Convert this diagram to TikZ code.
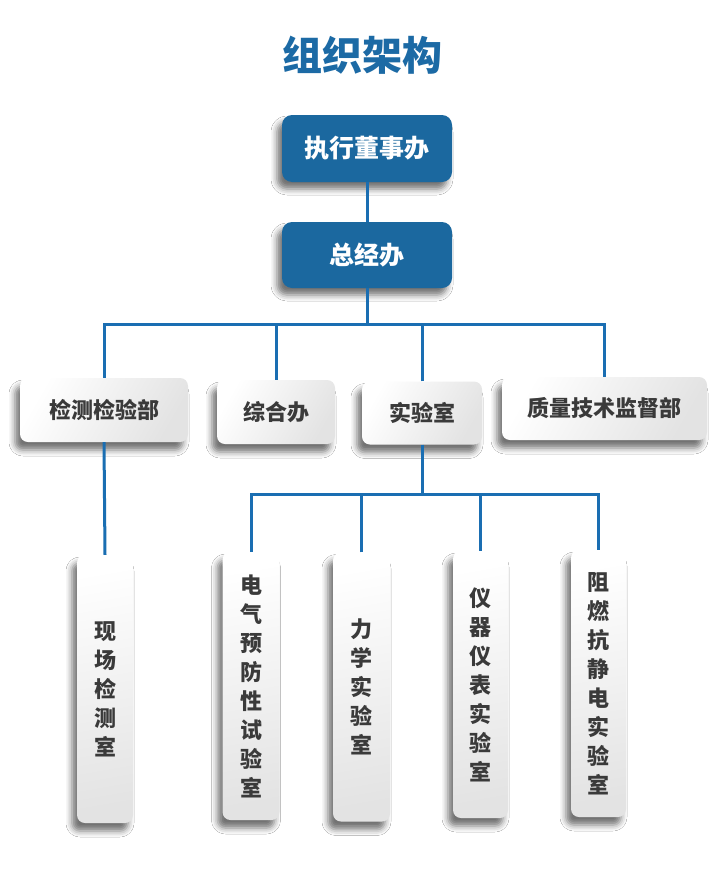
\documentclass[tikz,border=0pt]{standalone}
\usepackage{fontspec}
\setmainfont{Noto Sans CJK SC}
\usetikzlibrary{shadows.blur}
\definecolor{tblue}{HTML}{1C6AA5}
\definecolor{bfill}{HTML}{1B689F}
\definecolor{lblue}{HTML}{1A6EB2}
\definecolor{gtext}{HTML}{3A3A3A}
\tikzset{
  bluebox/.style={rectangle, rounded corners=10pt, fill=bfill, text=white,
    font=\fontsize{25}{30}\selectfont\bfseries, inner sep=0pt,
    blur shadow={shadow xshift=-5pt, shadow yshift=-7pt, shadow blur radius=6pt, shadow blur extra rounding=3pt, shadow opacity=55}},
  graybox/.style={rectangle, rounded corners=8pt, left color=white, right color=gray!22,
    shading angle=60, text=gtext, draw=none,
    font=\fontsize{22}{29}\selectfont\bfseries, inner sep=0pt,
    blur shadow={shadow xshift=-5pt, shadow yshift=-8pt, shadow blur radius=6pt, shadow blur extra rounding=3pt, shadow opacity=55}},
  vbox/.style={graybox, align=center, shading angle=10},
  conn/.style={draw=lblue, line width=3pt},
}
\begin{document}
\begin{tikzpicture}[x=1pt,y=-1pt]
\useasboundingbox[fill=white] (0,0) rectangle (723,870);
\node[text=tblue, font=\fontsize{40}{46}\selectfont\bfseries] (title) at (362,55) {组织架构};
\node[bluebox, minimum width=170pt, minimum height=67pt] (zxd) at (367,148.5) {执行董事办};
\node[bluebox, minimum width=170pt, minimum height=66pt] (zjb) at (367,255) {总经办};

\node[graybox, minimum width=168pt, minimum height=64pt] (jc) at (104,410) {检测检验部};
\node[graybox, minimum width=118pt, minimum height=64pt] (zh) at (276,412) {综合办};
\node[graybox, minimum width=120pt, minimum height=63pt] (sy) at (422,413) {实验室};
\node[graybox, minimum width=205pt, minimum height=63pt] (zl) at (604.5,408.5) {质量技术监督部};

\node[vbox, minimum width=56pt, minimum height=268pt] (xc) at (105,689) {现\\场\\检\\测\\室};
\node[vbox, minimum width=57pt, minimum height=268pt] (dq) at (251,686) {电\\气\\预\\防\\性\\试\\验\\室};
\node[vbox, minimum width=57pt, minimum height=269pt] (lx) at (361.5,687) {力\\学\\实\\验\\室};
\node[vbox, minimum width=55pt, minimum height=267pt] (yq) at (480.5,684.5) {仪\\器\\仪\\表\\实\\验\\室};
\node[vbox, minimum width=55pt, minimum height=267pt] (zr) at (598.5,683.5) {阻\\燃\\抗\\静\\电\\实\\验\\室};

\coordinate (b1) at (0,324);
\coordinate (b2) at (0,494);

\draw[conn] (zxd.south) -- (zjb.north);
\draw[conn] (zjb.south) -- (zjb.south |- b1);
\draw[conn] (jc.north) -- (jc.north |- b1) -- (zl.north |- b1) -- (zl.north);
\draw[conn] (zh.north) -- (zh.north |- b1);
\draw[conn] (sy.north) -- (sy.north |- b1);

\draw[conn] (jc.south) -- (xc.north);

\draw[conn] (sy.south) -- (sy.south |- b2);
\draw[conn] (dq.north) -- (dq.north |- b2) -- (zr.north |- b2) -- (zr.north);
\draw[conn] (lx.north) -- (lx.north |- b2);
\draw[conn] (yq.north) -- (yq.north |- b2);
\end{tikzpicture}
\end{document}
